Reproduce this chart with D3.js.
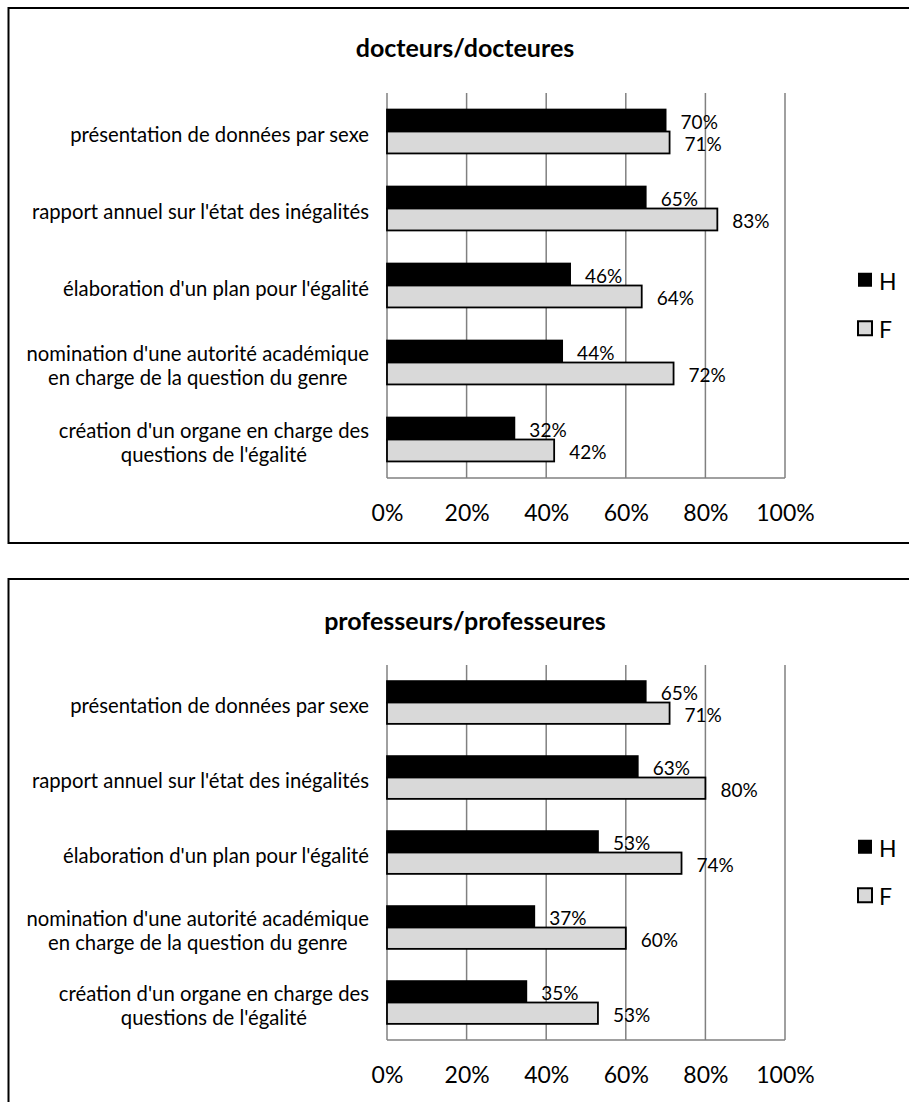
<!DOCTYPE html>
<html>
<head>
<meta charset="utf-8">
<script src="https://cdn.jsdelivr.net/npm/d3@7"></script>
<style>
  html, body { margin: 0; padding: 0; background: #fff; }
  svg { display: block; font-family: Lato, "Open Sans", sans-serif; }
</style>
</head>
<body>
<svg id="chart" width="909" height="1102"></svg>
<script>
// Mesures proposées, réponses par sexe (en %)
const categories = [
  "présentation de données par sexe",
  "rapport annuel sur l'état des inégalités",
  "élaboration d'un plan pour l'égalité",
  "nomination d'une autorité académique\nen charge de la question du genre",
  "création d'un organe en charge des\nquestions de l'égalité"
];
const series = ["H", "F"];
const docteursH = [70, 65, 46, 44, 32];
const docteursF = [71, 83, 64, 72, 42];
const professeursH = [65, 63, 53, 37, 35];
const professeursF = [71, 80, 74, 60, 53];
const xTicks = [0, 20, 40, 60, 80, 100];

const panels = [
  { title: "docteurs/docteures", H: docteursH, F: docteursF,
    boxTop: 8, boxBottom: 543, plotTop: 93, plotBottom: 478, titleY: 47 },
  { title: "professeurs/professeures", H: professeursH, F: professeursF,
    boxTop: 579, boxBottom: 1130, plotTop: 665, plotBottom: 1040, titleY: 620 }
];

const fills = { H: "#000000", F: "#d9d9d9" };
const svg = d3.select("#chart");

const x = d3.scaleLinear().domain([0, 100]).range([387, 785]);

panels.forEach(p => {
  const g = svg.append("g");

  // cadre du graphique
  g.append("rect")
    .attr("x", 8.5).attr("y", p.boxTop)
    .attr("width", 910).attr("height", p.boxBottom - p.boxTop)
    .attr("fill", "none").attr("stroke", "#000").attr("stroke-width", 2);

  g.append("text")
    .attr("x", 465).attr("y", p.titleY)
    .attr("text-anchor", "middle").attr("dominant-baseline", "central")
    .attr("font-weight", "bold").attr("font-size", 25)
    .text(p.title);

  const y0 = d3.scaleBand().domain(categories)
    .range([p.plotTop, p.plotBottom])
    .paddingInner(0.43).paddingOuter(0.215);
  const y1 = d3.scaleBand().domain(series).range([0, y0.bandwidth()]);

  // quadrillage vertical
  g.append("g").selectAll("line").data(xTicks).join("line")
    .attr("x1", d => x(d)).attr("x2", d => x(d))
    .attr("y1", p.plotTop).attr("y2", p.plotBottom)
    .attr("stroke", "#808080").attr("stroke-width", 1.5);
  g.append("line")
    .attr("x1", x(0)).attr("x2", x(100))
    .attr("y1", p.plotBottom).attr("y2", p.plotBottom)
    .attr("stroke", "#808080").attr("stroke-width", 1.5);

  // axe des pourcentages
  const xAxis = d3.axisBottom(x).tickValues(xTicks).tickFormat(d => d + "%").tickSize(0).tickPadding(0);
  const ax = g.append("g").attr("transform", `translate(0,${p.plotBottom + 34})`).call(xAxis);
  ax.select(".domain").remove();
  ax.selectAll("text")
    .attr("dy", null).attr("y", 0)
    .attr("dominant-baseline", "central")
    .attr("font-size", 23).attr("font-family", "Lato, sans-serif").attr("fill", "#000");

  // barres
  categories.forEach((c, i) => {
    series.forEach(s => {
      const v = p[s][i];
      const yy = y0(c) + y1(s);
      g.append("rect")
        .attr("x", x(0)).attr("y", yy)
        .attr("width", x(v) - x(0)).attr("height", y1.bandwidth())
        .attr("fill", fills[s]).attr("stroke", "#000").attr("stroke-width", 1.8);
      g.append("text")
        .attr("x", x(v) + 15).attr("y", yy + y1.bandwidth() / 2 + 1)
        .attr("dominant-baseline", "central")
        .attr("font-size", 19)
        .text(v + "%");
    });

    // libellé de catégorie (lignes centrées entre elles, bloc aligné à droite)
    const lines = c.split("\n");
    const lh = 24;
    const cy = y0(c) + y0.bandwidth() / 2 + 2;
    const t = g.append("text").attr("font-size", 20.3).attr("text-anchor", "middle");
    lines.forEach((ln, k) => {
      t.append("tspan")
        .attr("y", cy + (k - (lines.length - 1) / 2) * lh)
        .attr("dominant-baseline", "central")
        .text(ln);
    });
    let w = 0;
    t.selectAll("tspan").each(function () { w = Math.max(w, this.getComputedTextLength()); });
    t.selectAll("tspan").attr("x", 369 - w / 2);
  });

  // légende
  const lc = (p.plotTop + p.plotBottom) / 2 + 18.5;
  series.forEach((s, k) => {
    const cy = lc + (k - 0.5) * 48.5;
    g.append("rect")
      .attr("x", 858).attr("y", cy - 7).attr("width", 14).attr("height", 14)
      .attr("fill", fills[s]).attr("stroke", "#000").attr("stroke-width", s === "F" ? 2 : 0);
    g.append("text")
      .attr("x", 879).attr("y", cy + 1)
      .attr("dominant-baseline", "central")
      .attr("font-size", 23)
      .text(s);
  });
});
</script>
</body>
</html>
